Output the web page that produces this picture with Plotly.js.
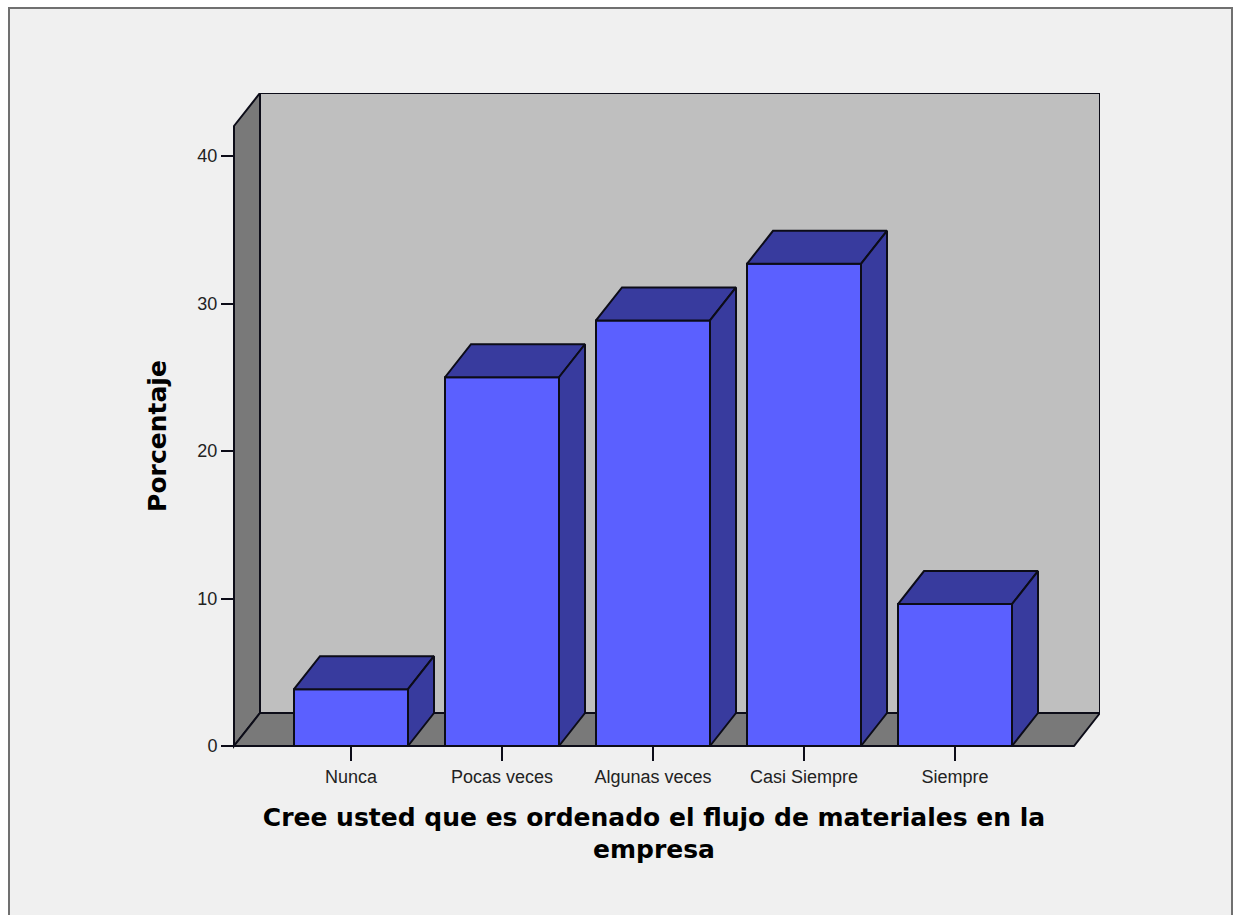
<!DOCTYPE html>
<html><head><meta charset="utf-8">
<script src="https://cdn.plot.ly/plotly-3.0.1.min.js"></script>
<style>html,body{margin:0;padding:0;background:#fff}#c{width:1235px;height:915px}</style></head>
<body><div id="c"></div>
<script>
const categories = ["Nunca","Pocas veces","Algunas veces","Casi Siempre","Siempre"];
const percentages = [3.85,25.0,28.85,32.69,9.62];
const yTicks = [0,10,20,30,40];
const xTitle = "Cree usted que es ordenado el flujo de materiales en la<br>empresa";
const yTitle = "Porcentaje";

const W=1235,H=915, L=208,R=1100,T=93,B=779;
const pxX=151, pxY=14.75, x0px=351, y0px=746;
const X=p=>(p-x0px)/pxX, Y=p=>(y0px-p)/pxY;
const depthX=X(377)-X(351), depthY=33/pxY, barW=114/pxX;
const positions=categories.map((_,i)=>i);
const xl=X(234), xr=X(1074), yt=Y(126);
const ink='#0c0c18', front='#5b60ff', shade='#383b9e', wall='#797979', back='#bfbfbf';

function path(pts){return 'M'+pts.map(p=>p[0]+','+p[1]).join('L')+'Z';}
function poly(fill,pts){return {type:'path',xref:'x',yref:'y',layer:'below',path:path(pts),fillcolor:fill,line:{color:ink,width:2}};}
const px=(v)=>(v-L)/(R-L), py=(v)=>(B-v)/(B-T);

const shapes=[
 {type:'rect',xref:'paper',yref:'paper',layer:'below',x0:px(9),x1:px(1232),y0:py(930),y1:py(8),fillcolor:'#f0f0f0',line:{color:'#707070',width:2}},
 poly(back,[[xl+depthX,depthY],[xr+depthX,depthY],[xr+depthX,yt+depthY],[xl+depthX,yt+depthY]]),
 poly(wall,[[xl,0],[xl+depthX,depthY],[xl+depthX,yt+depthY],[xl,yt]]),
 poly(wall,[[xl,0],[xr,0],[xr+depthX,depthY],[xl+depthX,depthY]])
];

const traces=[{type:'bar',x:positions,y:percentages,width:barW,marker:{color:front,line:{color:ink,width:2}},hoverinfo:'skip',showlegend:false}];
positions.forEach((c,i)=>{
  const v=percentages[i], a=c-barW/2, b=c+barW/2;
  traces.push({type:'scatter',mode:'lines',fill:'toself',fillcolor:shade,line:{color:ink,width:2},hoverinfo:'skip',showlegend:false,
    x:[a,b,b+depthX,a+depthX,a],y:[v,v,v+depthY,v+depthY,v]});
  traces.push({type:'scatter',mode:'lines',fill:'toself',fillcolor:shade,line:{color:ink,width:2},hoverinfo:'skip',showlegend:false,
    x:[b,b+depthX,b+depthX,b,b],y:[0,depthY,v+depthY,v,0]});
});

const layout={
 width:W,height:H,paper_bgcolor:'#fff',plot_bgcolor:'rgba(0,0,0,0)',showlegend:false,
 margin:{l:L,r:W-R,t:T,b:H-B,pad:0},
 shapes,
 font:{family:'"Liberation Sans",Arial,sans-serif',size:18,color:'#222'},
 xaxis:{range:[X(L),X(R)],anchor:'free',position:(B-y0px)/(B-T),tickmode:'array',tickvals:positions,ticktext:categories,
   ticks:'outside',ticklen:14,tickwidth:2,tickcolor:ink,showgrid:false,zeroline:false,showline:false,
   tickfont:{family:'"Liberation Sans",Arial,sans-serif',size:18,color:'#222'},
   title:{text:xTitle,standoff:22,font:{family:'"DejaVu Sans",sans-serif',size:25,weight:700,color:'#000'}}},
 yaxis:{range:[Y(B),Y(T)],anchor:'free',position:(234-L)/(R-L),tickmode:'array',tickvals:yTicks,
   ticks:'outside',ticklen:13,tickwidth:2,tickcolor:ink,showgrid:false,zeroline:false,showline:false,
   tickfont:{family:'"Liberation Sans",Arial,sans-serif',size:18,color:'#222'},
   title:{text:yTitle,standoff:22,font:{family:'"DejaVu Sans",sans-serif',size:25,weight:700,color:'#000'}}}
};
Plotly.newPlot('c',traces,layout,{displayModeBar:false,staticPlot:true});
</script></body></html>
